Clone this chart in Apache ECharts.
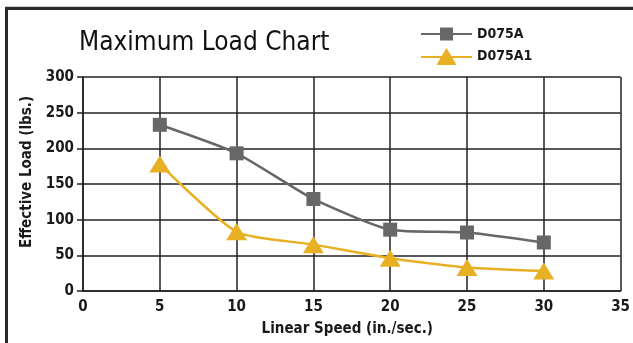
<!DOCTYPE html>
<html>
<head>
<meta charset="utf-8">
<script src="https://cdn.jsdelivr.net/npm/echarts@6/dist/echarts.min.js"></script>
<style>
html,body{margin:0;padding:0;background:#fff;}
#c{width:633px;height:343px;}
</style>
</head>
<body>
<div id="c"></div>
<script>
const titleText = 'Maximum Load Chart';
const xAxisName = 'Linear Speed (in./sec.)';
const yAxisName = 'Effective Load (lbs.)';
const seriesNames = ['D075A', 'D075A1'];
const speeds = [5, 10, 15, 20, 25, 30];
const loadD075A = [233, 193, 129, 86, 82, 68];
const loadD075A1 = [178, 83, 65, 46, 33, 28];
const xMin = 0, xMax = 35, xStep = 5;
const yMin = 0, yMax = 300, yStep = 50;

const FONT = '"DejaVu Sans Condensed", "Liberation Sans Narrow", "Roboto", sans-serif';
const GRAY = '#676767';
const GOLD = '#E8B025';
const TXT = '#1a1a1a';

// legend icons: line + marker (drawn in a 51 x 18 box)
const ICON_SQUARE = 'path://M0 5.5L19 5.5L19 0L32 0L32 5.5L51 5.5L51 7.5L32 7.5L32 13L19 13L19 7.5L0 7.5Z';
const ICON_TRIANGLE = 'path://M25.5 0L30.4 8.1L51 8.1L51 10.1L31.6 10.1L35.5 17L15.5 17L19.4 10.1L0 10.1L0 8.1L20.6 8.1Z';

const chart = echarts.init(document.getElementById('c'), null, {renderer: 'canvas'});
chart.setOption({
  animation: false,
  backgroundColor: '#fff',
  title: {
    text: titleText,
    left: 74, top: 25,
    textStyle: {fontFamily: FONT, fontSize: 26, fontWeight: 'normal', color: '#111'}
  },
  legend: {
    orient: 'vertical',
    left: 416, top: 22,
    itemWidth: 51, itemHeight: 18, itemGap: 7,
    data: [
      {name: seriesNames[0], icon: ICON_SQUARE},
      {name: seriesNames[1], icon: ICON_TRIANGLE}
    ],
    textStyle: {fontFamily: FONT, fontSize: 14, fontWeight: 'bold', color: TXT}
  },
  graphic: [
    {type: 'rect', shape: {x: 5, y: 6, width: 640, height: 1}, style: {fill: '#d0d0d0'}, silent: true},
    {type: 'rect', shape: {x: 5, y: 7, width: 640, height: 3}, style: {fill: '#2a2a2a'}, silent: true},
    {type: 'rect', shape: {x: 5, y: 7, width: 3, height: 340}, style: {fill: '#2a2a2a'}, silent: true}
  ],
  grid: {left: 83, right: 11, top: 77, bottom: 52, containLabel: false},
  xAxis: {
    type: 'value', min: xMin, max: xMax, interval: xStep,
    name: xAxisName, nameLocation: 'middle', nameGap: 31,
    nameTextStyle: {fontFamily: FONT, fontSize: 15, fontWeight: 'bold', color: TXT, padding: [0, 9, 0, 0]},
    axisLine: {show: true, lineStyle: {color: '#222', width: 1.5}},
    axisTick: {show: false},
    axisLabel: {fontFamily: FONT, fontSize: 15, fontWeight: 'bold', color: TXT, margin: 9},
    splitLine: {show: true, lineStyle: {color: '#222', width: 1.5}}
  },
  yAxis: {
    type: 'value', min: yMin, max: yMax, interval: yStep,
    name: yAxisName, nameLocation: 'middle', nameGap: 32,
    nameTextStyle: {fontFamily: FONT, fontSize: 15, fontWeight: 'bold', color: TXT, padding: [0, 0, 0, 24]},
    axisLine: {show: true, lineStyle: {color: '#222', width: 1.5}},
    axisTick: {show: true, length: 6, lineStyle: {color: '#222', width: 1.5}},
    axisLabel: {fontFamily: FONT, fontSize: 15, fontWeight: 'bold', color: TXT, margin: 9},
    splitLine: {show: true, lineStyle: {color: '#222', width: 1.5}}
  },
  series: [
    {
      name: seriesNames[0], type: 'line', smooth: 0.2,
      data: speeds.map((x, i) => [x, loadD075A[i]]),
      symbol: 'rect', symbolSize: 14,
      lineStyle: {color: GRAY, width: 2.5},
      itemStyle: {color: GRAY}
    },
    {
      name: seriesNames[1], type: 'line', smooth: 0.2,
      data: speeds.map((x, i) => [x, loadD075A1[i]]),
      symbol: 'triangle', symbolSize: [21, 17],
      lineStyle: {color: GOLD, width: 2.5},
      itemStyle: {color: GOLD}
    }
  ]
});
</script>
</body>
</html>
